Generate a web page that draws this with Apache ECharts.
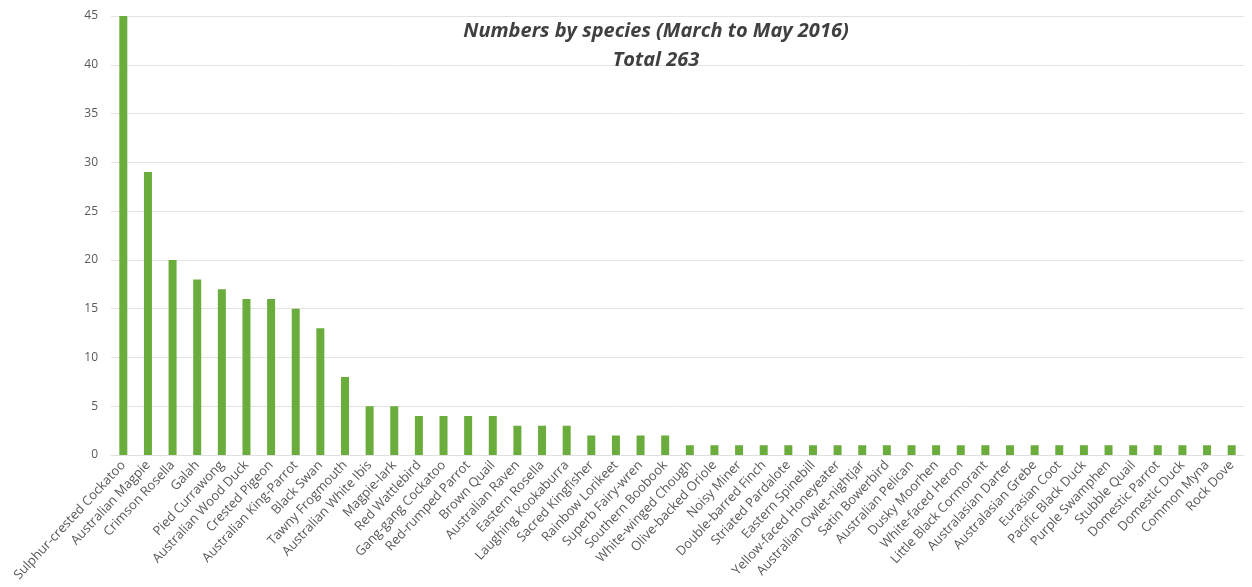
<!DOCTYPE html>
<html>
<head>
<meta charset="utf-8">
<script src="https://cdn.jsdelivr.net/npm/echarts@6/dist/echarts.min.js"></script>
<style>
  html, body { margin: 0; padding: 0; background: #ffffff; }
  #chart { width: 1252px; height: 587px; }
</style>
</head>
<body>
<div id="chart"></div>
<script>
// Bird species recorded, March to May 2016
const species = [
  'Sulphur-crested Cockatoo', 'Australian Magpie', 'Crimson Rosella', 'Galah',
  'Pied Currawong', 'Australian Wood Duck', 'Crested Pigeon', 'Australian King-Parrot',
  'Black Swan', 'Tawny Frogmouth', 'Australian White Ibis', 'Magpie-lark',
  'Red Wattlebird', 'Gang-gang Cockatoo', 'Red-rumped Parrot', 'Brown Quail',
  'Australian Raven', 'Eastern Rosella', 'Laughing Kookaburra', 'Sacred Kingfisher',
  'Rainbow Lorikeet', 'Superb Fairy-wren', 'Southern Boobook', 'White-winged Chough',
  'Olive-backed Oriole', 'Noisy Miner', 'Double-barred Finch', 'Striated Pardalote',
  'Eastern Spinebill', 'Yellow-faced Honeyeater', 'Australian Owlet-nightjar', 'Satin Bowerbird',
  'Australian Pelican', 'Dusky Moorhen', 'White-faced Heron', 'Little Black Cormorant',
  'Australasian Darter', 'Australasian Grebe', 'Eurasian Coot', 'Pacific Black Duck',
  'Purple Swamphen', 'Stubble Quail', 'Domestic Parrot', 'Domestic Duck',
  'Common Myna', 'Rock Dove'
];

const counts = [
  45, 29, 20, 18, 17, 16, 16, 15, 13, 8, 5, 5, 4, 4, 4, 4, 3, 3, 3, 2, 2, 2, 2,
  1, 1, 1, 1, 1, 1, 1, 1, 1, 1, 1, 1, 1, 1, 1, 1, 1, 1, 1, 1, 1, 1, 1
];

const titleLines = ['Numbers by species (March to May 2016)', 'Total 263'];

const FONT = '"Open Sans", Lato, sans-serif';

const chart = echarts.init(document.getElementById('chart'), null, { renderer: 'canvas' });

chart.setOption({
  animation: false,
  backgroundColor: '#ffffff',
  title: {
    text: titleLines.join('\n'),
    left: 651,
    top: 12,
    textAlign: 'center',
    textStyle: {
      fontFamily: FONT,
      fontSize: 20,
      fontStyle: 'italic',
      fontWeight: 'bold',
      color: '#404040',
      lineHeight: 29
    }
  },
  grid: {
    left: 111,
    right: 8,
    top: 16,
    bottom: 132,
    containLabel: false
  },
  xAxis: {
    type: 'category',
    data: species,
    axisTick: { show: false },
    axisLine: { show: true, lineStyle: { color: '#e0e0e0', width: 1 } },
    axisLabel: {
      interval: 0,
      rotate: 47,
      margin: 8,
      fontFamily: FONT,
      fontSize: 13,
      color: '#595959'
    }
  },
  yAxis: {
    type: 'value',
    min: 0,
    max: 45,
    interval: 5,
    axisLine: { show: false },
    axisTick: { show: false },
    axisLabel: {
      margin: 13,
      fontFamily: FONT,
      fontSize: 12,
      color: '#595959'
    },
    splitLine: { lineStyle: { color: '#e3e3e3', width: 1 } }
  },
  series: [{
    type: 'bar',
    data: counts,
    barWidth: 8,
    itemStyle: { color: '#6aad3d' }
  }]
});
</script>
</body>
</html>
